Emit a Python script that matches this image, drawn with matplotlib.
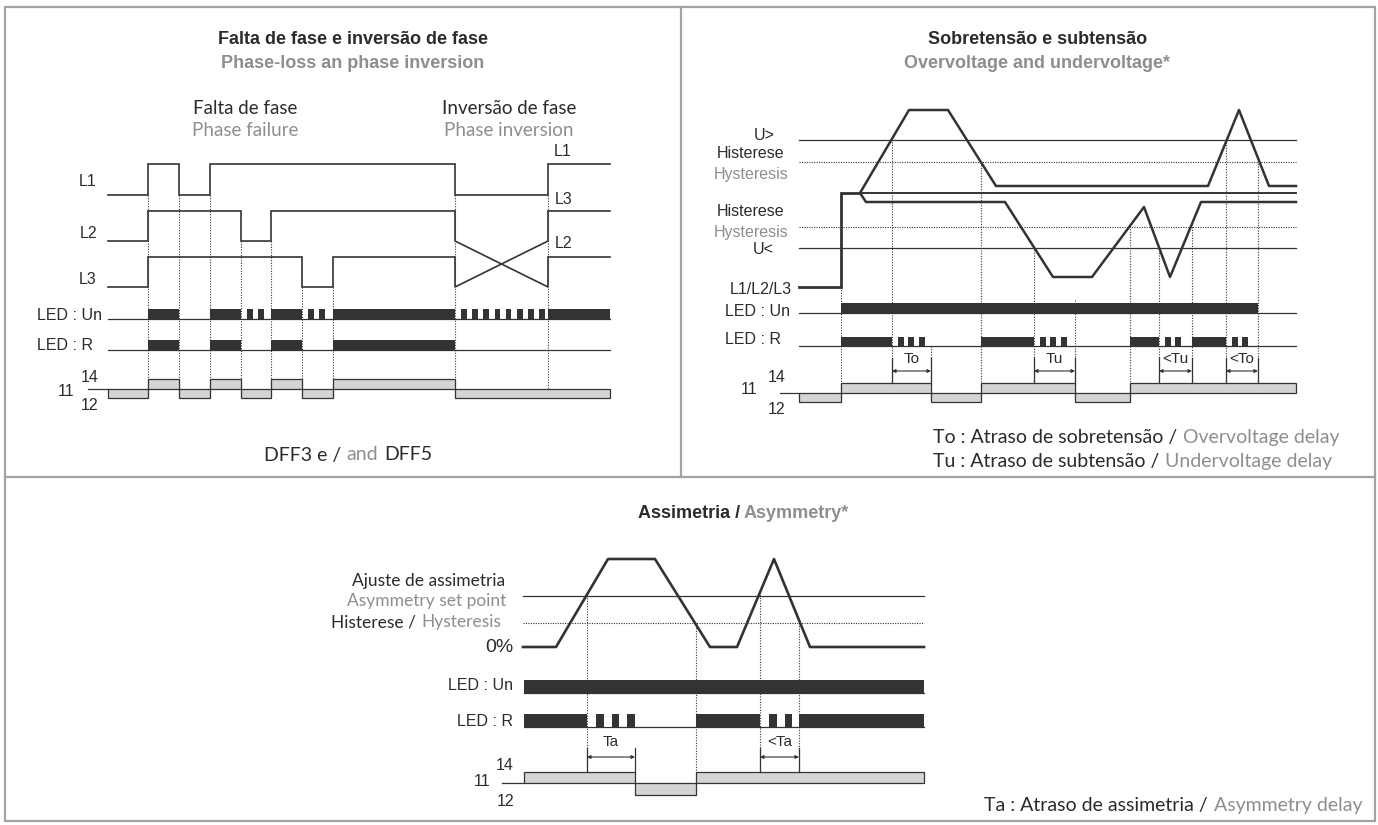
import numpy as np
import matplotlib
matplotlib.use('Agg')
import matplotlib.pyplot as plt
from matplotlib.patches import Rectangle
import matplotlib.font_manager as fm

# ---------------------------------------------------------------- data
# Panel 1 - phase failure / phase inversion (switching instants + state per interval)
P1_TIMES = [108, 148, 179, 210, 241, 271, 302, 333, 455, 548, 610]
P1_L1 = [0, 1, 0, 1, 1, 1, 1, 1, 0, 1]
P1_L2 = [0, 1, 1, 1, 0, 1, 1, 1, 'X', 1]
P1_L3 = [0, 1, 1, 1, 1, 1, 0, 1, 'X', 1]
P1_LED_UN = [0, 1, 0, 1, 2, 1, 2, 1, 8, 1]      # 0 off, 1 on, n>1 = n flashes
P1_LED_R = [0, 1, 0, 1, 0, 1, 0, 1, 0, 0]
P1_RELAY = [0, 1, 0, 1, 0, 1, 0, 1, 0, 0]       # 1 = 11-14, 0 = 11-12

# Panel 2 - overvoltage / undervoltage
P2_TIMES = [799, 841, 892, 931, 981, 1034, 1075, 1130, 1159, 1192, 1226, 1258, 1296]
P2_LED_UN = [0, 1, 1, 1, 1, 1, 1, 1, 1, 1, 1, 0]
P2_LED_R = [0, 1, 3, 0, 1, 3, 0, 1, 2, 1, 2, 0]
P2_RELAY = [0, 1, 1, 0, 1, 1, 0, 1, 1, 1, 1, 1]
P2_GUIDE_SRC = ['step', 'up', 'led', 'up', 'lo', 'un', 'lo', 'lo', 'lo', 'up', 'up']
P2_STEP_T = [799, 841, 841, 860]
P2_STEP_V = [287, 287, 193, 193]
P2_UP_T = [860, 909, 948, 996, 1208, 1239, 1269, 1296]
P2_UP_V = [193, 110, 110, 186, 186, 110, 186, 186]
P2_LO_T = [860, 866, 1005, 1053, 1092, 1144, 1170, 1201, 1296]
P2_LO_V = [193, 202, 202, 277, 277, 207, 277, 202, 202]
P2_U_HI, P2_HYS_HI, P2_NOM, P2_HYS_LO, P2_U_LO = 140, 162, 193, 227, 248
P2_DIMS = [(892, 931, 'To'), (1034, 1075, 'Tu'), (1159, 1192, '<Tu'), (1226, 1258, '<To')]

# Panel 3 - asymmetry
P3_TIMES = [524, 587, 635, 696, 760, 799, 924]
P3_LED_UN = [1, 1, 1, 1, 1, 1]
P3_LED_R = [1, 3, 0, 1, 2, 1]
P3_RELAY = [1, 1, 0, 1, 1, 1]
P3_CURVE_T = [523, 556, 608, 655, 710, 737, 774, 810, 924]
P3_CURVE_V = [647, 647, 559, 559, 647, 647, 559, 647, 647]
P3_SET, P3_HYS, P3_ZERO = 596, 623, 647
P3_GUIDES = [587, 696, 760, 799]
P3_DIMS = [(587, 635, 'Ta'), (760, 799, '<Ta')]

# ---------------------------------------------------------------- style
DARK = '#2b2b2b'
GRAY = '#8e8e8e'
LINE = '#333333'
BAR = '#333333'
RELAY_FC = '#d4d4d4'
BORDER = '#a3a3a3'

avail = {f.name for f in fm.fontManager.ttflist}
def pick(*names):
    for n in names:
        if n in avail:
            return n
    return 'DejaVu Sans'

NARROW = pick('Liberation Sans Narrow', 'Arial Narrow')
HAS_NARROW = NARROW != 'DejaVu Sans'
if not HAS_NARROW:
    NARROW = pick('Liberation Sans', 'Roboto')
SANS = pick('Liberation Sans', 'Roboto', 'DejaVu Sans')
BODY = pick('Lato', 'Open Sans', 'Noto Sans')

T_SIZE = 14.5 if HAS_NARROW else 13
D_SIZE = 12 if HAS_NARROW else 11
L_SIZE = 11.5
B_SIZE = 13.5
F_SIZE = 14

fig = plt.figure(figsize=(13.78, 8.25), dpi=100)
ax = fig.add_axes([0, 0, 1, 1])
ax.set_xlim(0, 1378)
ax.set_ylim(825, 0)
ax.axis('off')


def txt(x, y, s, color=DARK, family=SANS, size=L_SIZE, ha='center', weight='normal'):
    return ax.text(x, y, s, color=color, family=family, fontsize=size, ha=ha,
                   va='center', fontweight=weight, zorder=6)


def rich(x, y, parts, ha='left', family=BODY, size=B_SIZE, weight='normal', gap=0.28):
    g = gap * size
    kw = dict(family=family, fontsize=size, fontweight=weight, zorder=6)
    if ha == 'left':
        t = ax.text(x, y, parts[0][0], color=parts[0][1], ha='left', va='center', **kw)
        for s, c in parts[1:]:
            t = ax.annotate(s, xy=(1, 0), xycoords=t, xytext=(g, 0), textcoords='offset points',
                            color=c, ha='left', va='bottom', **kw)
    else:
        t = ax.text(x, y, parts[-1][0], color=parts[-1][1], ha='right', va='center', **kw)
        for s, c in reversed(parts[:-1]):
            t = ax.annotate(s, xy=(0, 0), xycoords=t, xytext=(-g, 0), textcoords='offset points',
                            color=c, ha='right', va='bottom', **kw)


def runs(times, states):
    out = []
    for i, s in enumerate(states):
        a, b = times[i], times[i + 1]
        if out and out[-1][2] == s and s in (0, 1):
            out[-1][1] = b
        else:
            out.append([a, b, s])
    return out


def led(times, states, y_line, h, blink):
    ax.plot([times[0], times[-1]], [y_line, y_line], color=LINE, lw=0.9, zorder=3)
    off, pitch, w = blink
    for a, b, s in runs(times, states):
        if s == 1:
            ax.add_patch(Rectangle((a, y_line - h), b - a, h, fc=BAR, ec='none', zorder=4))
        elif s > 1:
            for k in range(s):
                xa = a + off + k * pitch
                ax.add_patch(Rectangle((xa, y_line - h), w, h, fc=BAR, ec='none', zorder=4))


def relay(times, states, y14, y11, y12, tick_x0):
    ax.plot([tick_x0, times[0]], [y11, y11], color=LINE, lw=0.9, zorder=3)
    for a, b, s in runs(times, states):
        top, bot = (y14, y11) if s else (y11, y12)
        ax.add_patch(Rectangle((a, top), b - a, bot - top, fc=RELAY_FC, ec=LINE, lw=0.9, zorder=4))


def relay_bottom(times, states, t, y14, y11, y12):
    i = times.index(t)
    before = states[i - 1]
    after = states[i] if i < len(states) else before
    if before != after:
        return y12
    return y14 if after else y11


def guide(x, top, bot):
    ax.plot([x, x], [top, bot], color=LINE, lw=0.8, ls=(0, (1, 1.4)), zorder=2)


def dims(spec, y_tick, y_arrow, y_text, y_bot):
    for a, b, lab in spec:
        ax.plot([a, a], [y_tick, y_bot], color=LINE, lw=0.9, zorder=5)
        ax.plot([b, b], [y_tick, y_bot], color=LINE, lw=0.9, zorder=5)
        ax.annotate('', xy=(a, y_arrow), xytext=(b, y_arrow),
                    arrowprops=dict(arrowstyle='<|-|>', color=LINE, lw=0.8,
                                    mutation_scale=5, shrinkA=0, shrinkB=0), zorder=5)
        txt((a + b) / 2, y_text, lab, family=NARROW, size=D_SIZE)


# ---------------------------------------------------------------- frame
ax.add_patch(Rectangle((5, 7), 1370, 814, fill=False, ec=BORDER, lw=1.6, zorder=1))
ax.plot([681, 681], [7, 477], color=BORDER, lw=1.6, zorder=1)
ax.plot([5, 1375], [477, 477], color=BORDER, lw=1.6, zorder=1)

# ================================================================ panel 1
txt(353, 40, 'Falta de fase e inversão de fase', family=NARROW, size=T_SIZE, weight='bold')
txt(353, 64, 'Phase-loss an phase inversion', color=GRAY, family=NARROW, size=T_SIZE, weight='bold')
txt(245, 109, 'Falta de fase', family=BODY, size=B_SIZE)
txt(245, 131, 'Phase failure', color=GRAY, family=BODY, size=B_SIZE)
txt(509, 109, 'Inversão de fase', family=BODY, size=B_SIZE)
txt(509, 131, 'Phase inversion', color=GRAY, family=BODY, size=B_SIZE)

ROW_LEVELS = {1: (164, 195), 2: (211, 241), 3: (257, 287)}


def row_path(times, states, row, other):
    hi, lo = ROW_LEVELS[row]
    xs, ys = [], []
    for i, s in enumerate(states):
        a, b = times[i], times[i + 1]
        if s == 'X':
            xs += [a, b]
            ys += [lo, ROW_LEVELS[other][1]]
            hi, lo = ROW_LEVELS[other]
        else:
            y = hi if s else lo
            xs += [a, b]
            ys += [y, y]
    return xs, ys


for row, states, other in [(1, P1_L1, 1), (2, P1_L2, 3), (3, P1_L3, 2)]:
    xs, ys = row_path(P1_TIMES, states, row, other)
    ax.plot(xs, ys, color=LINE, lw=1.2, zorder=5, solid_joinstyle='miter')

txt(97, 182, 'L1', ha='right')
txt(97, 233, 'L2', ha='right')
txt(97, 279, 'L3', ha='right')
txt(563, 152, 'L1')
txt(564, 199, 'L3')
txt(564, 243, 'L2')

P1_Y14, P1_Y11, P1_Y12 = 379, 389, 398
for i, t in enumerate(P1_TIMES[1:-1], start=1):
    top = None
    for row, states in [(1, P1_L1), (2, P1_L2), (3, P1_L3)]:
        if states[i] != states[i - 1]:
            top = ROW_LEVELS[row][1]
            break
    if top is None:
        top = ROW_LEVELS[1][1]
    guide(t, top, relay_bottom(P1_TIMES, P1_RELAY, t, P1_Y14, P1_Y11, P1_Y12))

led(P1_TIMES, P1_LED_UN, 319, 10, (6, 11.2, 5.6))
led(P1_TIMES, P1_LED_R, 350, 10, (6, 11.2, 5.6))
txt(37, 316, 'LED : Un', ha='left')
txt(37, 345, 'LED : R', ha='left')
relay(P1_TIMES, P1_RELAY, P1_Y14, P1_Y11, P1_Y12, 88)
txt(90, 377, '14')
txt(66, 391, '11')
txt(90, 406, '12')
rich(264, 455, [('DFF3 e /', DARK), ('and', GRAY), ('DFF5', DARK)], size=F_SIZE)

# ================================================================ panel 2
txt(1038, 39, 'Sobretensão e subtensão', family=NARROW, size=T_SIZE, weight='bold')
txt(1037, 64, 'Overvoltage and undervoltage*', color=GRAY, family=NARROW, size=T_SIZE, weight='bold')

X2A, X2B = 799, 1296
ax.plot([X2A, X2B], [P2_U_HI, P2_U_HI], color=LINE, lw=0.9, zorder=3)
ax.plot([X2A, X2B], [P2_U_LO, P2_U_LO], color=LINE, lw=0.9, zorder=3)
ax.plot([X2A, X2B], [P2_HYS_HI, P2_HYS_HI], color=LINE, lw=0.8, ls=(0, (1, 1.2)), zorder=3)
ax.plot([X2A, X2B], [P2_HYS_LO, P2_HYS_LO], color=LINE, lw=0.8, ls=(0, (1, 1.2)), zorder=3)
ax.plot([P2_STEP_T[-1], X2B], [P2_NOM, P2_NOM], color=LINE, lw=1.4, zorder=5)
ax.plot(P2_STEP_T, P2_STEP_V, color=LINE, lw=2.0, zorder=5, solid_joinstyle='miter')
ax.plot(P2_UP_T, P2_UP_V, color=LINE, lw=1.8, zorder=5)
ax.plot(P2_LO_T, P2_LO_V, color=LINE, lw=1.8, zorder=5)

txt(764, 135, 'U>')
txt(751, 154, 'Histerese')
txt(751, 175, 'Hysteresis', color=GRAY)
txt(751, 212, 'Histerese')
txt(751, 233, 'Hysteresis', color=GRAY)
txt(763, 250, 'U<')
txt(792, 289, 'L1/L2/L3', ha='right')

P2_UN_Y, P2_R_Y = 313, 346
P2_Y14, P2_Y11, P2_Y12 = 383, 393, 402
for t, src in zip(P2_TIMES[1:-1], P2_GUIDE_SRC):
    if src == 'step':
        top = P2_STEP_V[0]
    elif src == 'up':
        top = float(np.interp(t, P2_UP_T, P2_UP_V))
    elif src == 'lo':
        top = float(np.interp(t, P2_LO_T, P2_LO_V))
    elif src == 'led':
        top = P2_R_Y
    else:
        top = P2_UN_Y - 13
    guide(t, top, relay_bottom(P2_TIMES, P2_RELAY, t, P2_Y14, P2_Y11, P2_Y12))

led(P2_TIMES, P2_LED_UN, P2_UN_Y, 10, (5.5, 10.5, 6))
led(P2_TIMES, P2_LED_R, P2_R_Y, 9.5, (5.5, 10.5, 6))
txt(725, 312, 'LED : Un', ha='left')
txt(725, 340, 'LED : R', ha='left')
relay(P2_TIMES, P2_RELAY, P2_Y14, P2_Y11, P2_Y12, 780)
txt(777, 377, '14')
txt(749, 389, '11')
txt(777, 410, '12')
dims(P2_DIMS, 358, 371, 359, P2_Y14)

rich(933, 437, [('To : Atraso de sobretensão /', DARK), ('Overvoltage delay', GRAY)], size=F_SIZE)
rich(933, 462, [('Tu : Atraso de subtensão /', DARK), ('Undervoltage delay', GRAY)], size=F_SIZE)

# ================================================================ panel 3
rich(638, 513, [('Assimetria /', DARK), ('Asymmetry*', GRAY)], family=NARROW, size=T_SIZE,
     weight='bold', gap=0.2)

X3A, X3B = 523, 924
ax.plot([X3A, X3B], [P3_SET, P3_SET], color=LINE, lw=0.9, zorder=3)
ax.plot([X3A, X3B], [P3_HYS, P3_HYS], color=LINE, lw=0.8, ls=(0, (1, 1.2)), zorder=3)
ax.plot(P3_CURVE_T, P3_CURVE_V, color=LINE, lw=1.9, zorder=5)

txt(505, 581, 'Ajuste de assimetria', ha='right', family=BODY, size=12.5)
txt(506, 601, 'Asymmetry set point', ha='right', family=BODY, size=12.5, color=GRAY)
rich(501, 622, [('Histerese /', DARK), ('Hysteresis', GRAY)], ha='right', size=12.5)
txt(513, 647, '0%', ha='right', family=SANS, size=14)

P3_UN_Y, P3_R_Y = 693, 727
P3_Y14, P3_Y11, P3_Y12 = 772, 783, 795
for t in P3_GUIDES:
    top = float(np.interp(t, P3_CURVE_T, P3_CURVE_V))
    guide(t, top, relay_bottom(P3_TIMES, P3_RELAY, t, P3_Y14, P3_Y11, P3_Y12))

led(P3_TIMES, P3_LED_UN, P3_UN_Y, 13, (9, 15.5, 7.5))
led(P3_TIMES, P3_LED_R, P3_R_Y, 13, (9, 15.5, 7.5))
txt(513, 686, 'LED : Un', ha='right')
txt(513, 721, 'LED : R', ha='right')
relay(P3_TIMES, P3_RELAY, P3_Y14, P3_Y11, P3_Y12, 502)
txt(505, 765, '14')
txt(482, 781, '11')
txt(506, 801, '12')
dims(P3_DIMS, 748, 757, 742, P3_Y14)

rich(1362, 805, [('Ta : Atraso de assimetria /', DARK), ('Asymmetry delay', GRAY)], ha='right',
     size=F_SIZE)

fig.savefig('out.png', dpi=100, facecolor='white')
